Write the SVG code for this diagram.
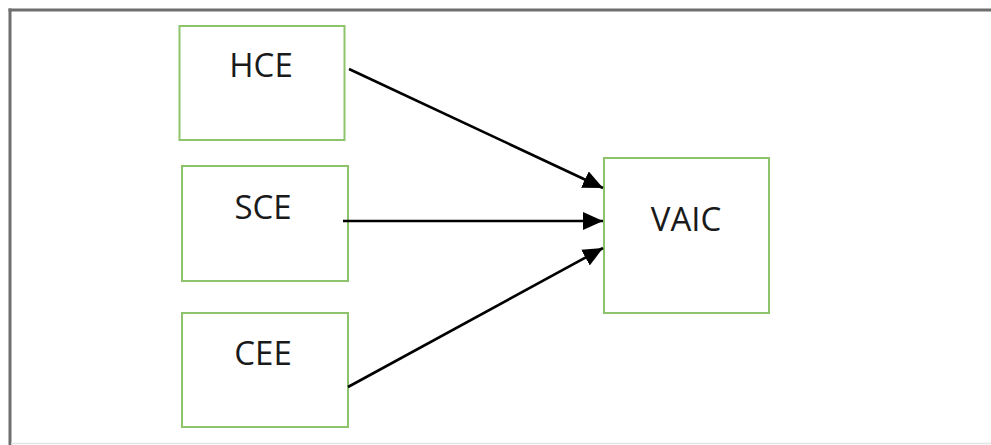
<svg xmlns="http://www.w3.org/2000/svg" width="991" height="445" viewBox="0 0 991 445">
  <style>
    .box { fill: #ffffff; stroke: #8dc46b; stroke-width: 2; }
    .label { font-family: "Open Sans", "Liberation Sans", sans-serif; font-size: 33px; fill: #1a1a1a; text-anchor: middle; }
    .edge { stroke: #000000; stroke-width: 2.6; fill: none; marker-end: url(#arrow); }
  </style>
  <defs>
    <marker id="arrow" markerUnits="userSpaceOnUse" markerWidth="20" markerHeight="18" refX="20" refY="9" orient="auto">
      <path d="M0,0 L20,9 L0,18 Z" fill="#000000"/>
    </marker>
  </defs>

  <rect width="991" height="445" fill="#ffffff"/>

  <!-- outer frame -->
  <g id="frame">
    <line x1="8.5" y1="10" x2="991" y2="10" stroke="#6e6e6e" stroke-width="3"/>
    <line x1="10" y1="8.5" x2="10" y2="445" stroke="#6e6e6e" stroke-width="3"/>
    <line x1="11" y1="443.5" x2="991" y2="443.5" stroke="#e4e4e4" stroke-width="1.5"/>
  </g>

  <g id="hce">
    <rect class="box" x="179.5" y="26" width="165" height="114"/>
    <text class="label" x="261" y="77">HCE</text>
  </g>

  <g id="sce">
    <rect class="box" x="182" y="166" width="166" height="115"/>
    <text class="label" x="263" y="219">SCE</text>
  </g>

  <g id="cee">
    <rect class="box" x="182" y="313" width="166" height="114"/>
    <text class="label" x="263" y="365">CEE</text>
  </g>

  <g id="vaic">
    <rect class="box" x="604" y="158" width="165" height="155"/>
    <text class="label" x="686" y="231" font-size="37">VAIC</text>
  </g>

  <g id="connectors">
    <line class="edge" x1="349" y1="69" x2="603" y2="188"/>
    <line class="edge" x1="343" y1="221" x2="603" y2="221"/>
    <line class="edge" x1="348" y1="387" x2="603" y2="248"/>
  </g>
</svg>
